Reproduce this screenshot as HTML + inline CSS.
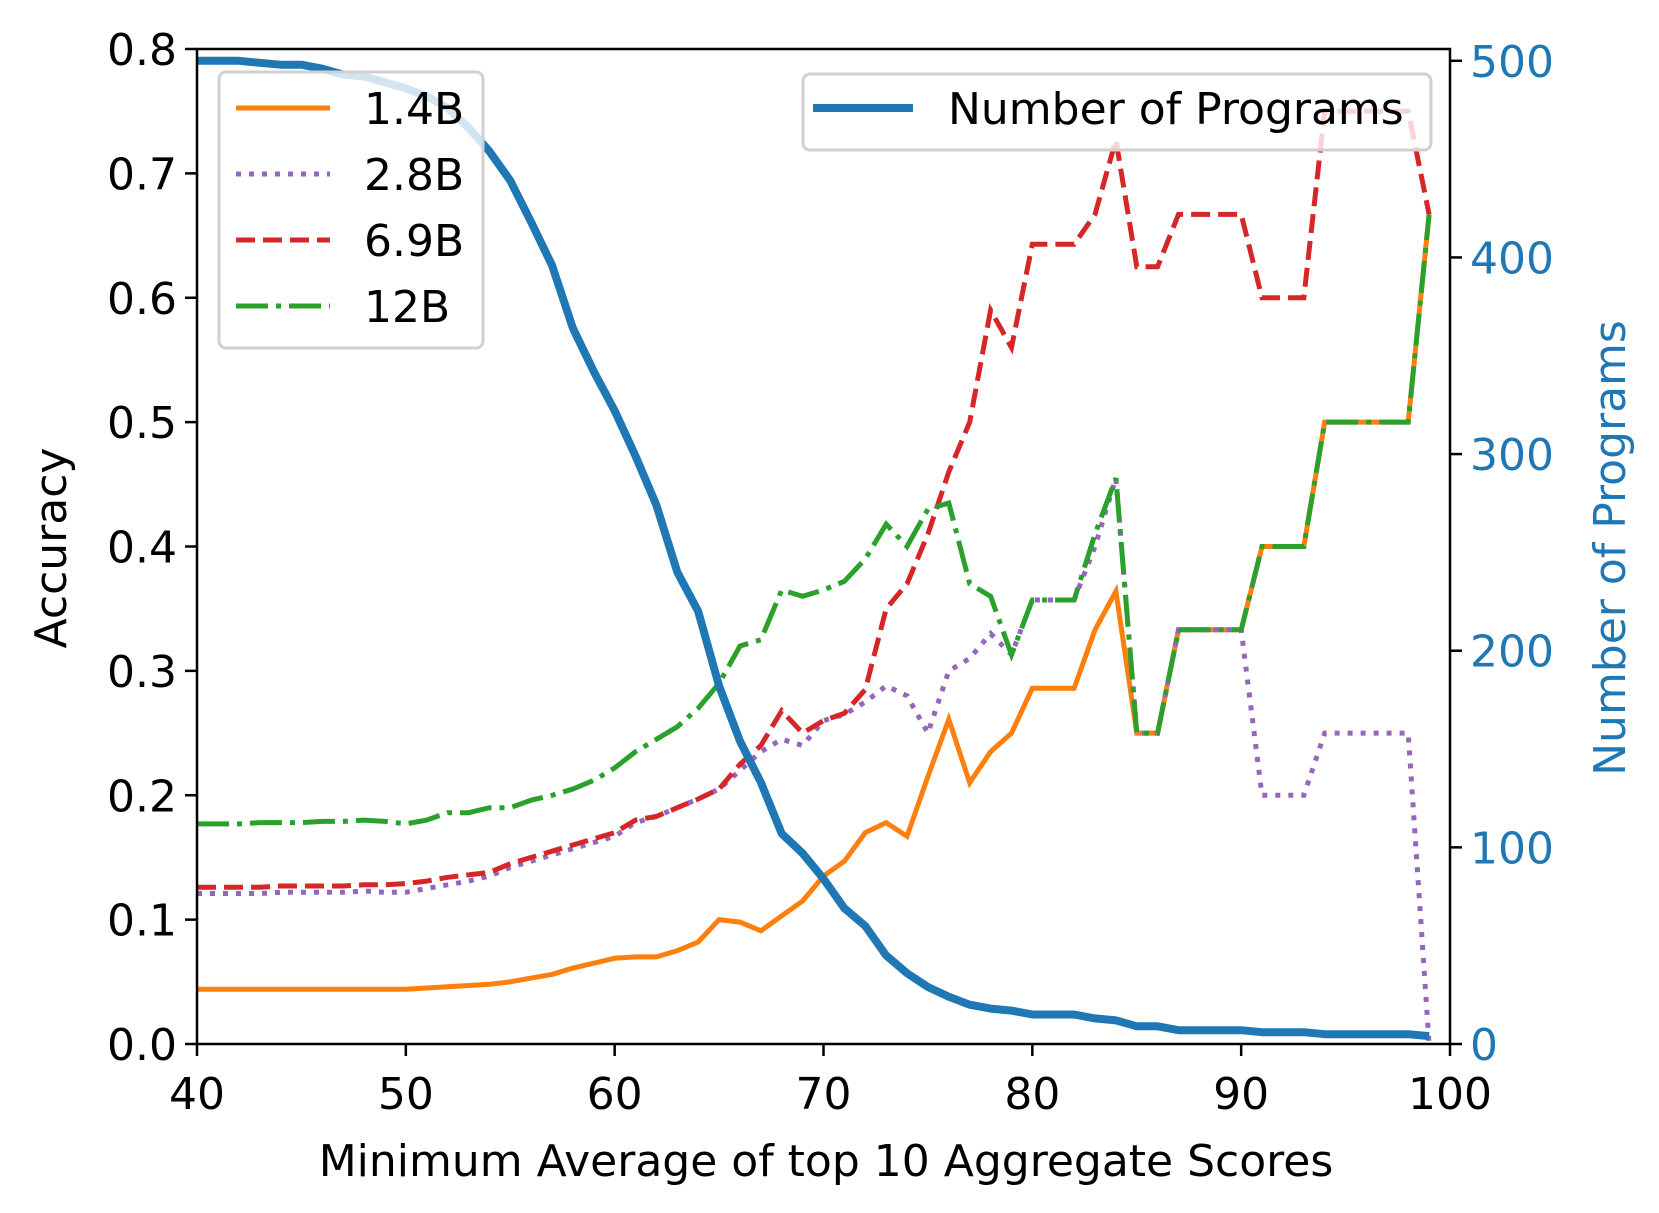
<!DOCTYPE html>
<html><head><meta charset="utf-8"><style>
html,body{margin:0;padding:0;background:#fff;}
svg{display:block;font-family:"DejaVu Sans","Liberation Sans",sans-serif;}
</style></head><body>
<svg id="chart" width="1659" height="1213" viewBox="0 0 1659 1213" xmlns="http://www.w3.org/2000/svg">
<g id="marks"></g>
<g id="axes"></g>
<g id="legends"></g>
</svg>
<script>
const xs = [40,41,42,43,44,45,46,47,48,49,50,51,52,53,54,55,56,57,58,59,60,61,62,63,64,65,66,67,68,69,70,71,72,73,74,75,76,77,78,79,80,81,82,83,84,85,86,87,88,89,90,91,92,93,94,95,96,97,98,99];
const acc14 = [.044,.044,.044,.044,.044,.044,.044,.044,.044,.044,.044,.045,.046,.047,.048,.050,.053,.056,.061,.065,.069,.070,.070,.075,.082,.100,.098,.091,.103,.115,.135,.147,.170,.178,.167,.215,.261,.210,.235,.250,.286,.286,.286,.333,.364,.25,.25,.333,.333,.333,.333,.4,.4,.4,.5,.5,.5,.5,.5,.667];
const acc28 = [.121,.121,.121,.121,.122,.122,.122,.122,.123,.122,.122,.125,.128,.131,.135,.142,.147,.152,.157,.162,.167,.178,.183,.190,.197,.205,.22,.235,.245,.24,.26,.265,.275,.288,.28,.25,.30,.31,.33,.313,.357,.357,.357,.40,.455,.25,.25,.333,.333,.333,.333,.2,.2,.2,.25,.25,.25,.25,.25,0];
const acc69 = [.126,.126,.126,.126,.127,.127,.127,.127,.128,.128,.129,.131,.134,.136,.138,.145,.150,.155,.160,.165,.170,.180,.183,.190,.197,.205,.225,.240,.268,.25,.26,.266,.285,.35,.37,.41,.46,.50,.59,.56,.643,.643,.643,.667,.727,.625,.625,.667,.667,.667,.667,.6,.6,.6,.75,.75,.75,.75,.75,.667];
const acc12 = [.177,.177,.177,.178,.178,.178,.179,.179,.180,.179,.177,.18,.186,.186,.19,.19,.196,.20,.205,.212,.222,.235,.245,.255,.27,.29,.32,.325,.365,.36,.365,.372,.39,.418,.40,.43,.435,.37,.36,.313,.357,.357,.357,.41,.455,.25,.25,.333,.333,.333,.333,.4,.4,.4,.5,.5,.5,.5,.5,.667];
const programs = [500,500,500,499,498,498,496,493,492,489,486,482,476,466,454,439,418,396,364,342,322,299,274,240,220,182,154,133,107,97,84,69,60,45,36,29,24,20,18,17,15,15,15,13,12,9,9,7,7,7,7,6,6,6,5,5,5,5,5,4];
const xTicks = [40,50,60,70,80,90,100];
const yTicks = [0,0.1,0.2,0.3,0.4,0.5,0.6,0.7,0.8];
const y2Ticks = [0,100,200,300,400,500];

const L=197,R=1450,T=49,B=1044;
const X=v=>L+(v-40)/60*(R-L);
const Y=v=>B-v/0.8*(B-T);
const Y2=v=>B-v/506*(B-T);
const NS="http://www.w3.org/2000/svg";
function mk(tag,attrs,parent){const e=document.createElementNS(NS,tag);for(const k in attrs)e.setAttribute(k,attrs[k]);parent.appendChild(e);return e;}
const marks=document.getElementById('marks'),axes=document.getElementById('axes'),leg=document.getElementById('legends');
function pts(arr,f){return arr.map((v,i)=>X(xs[i]).toFixed(1)+','+f(v).toFixed(1)).join(' ');}

let p;
p=mk('polyline',{points:pts(acc14,Y),fill:'none',stroke:'#ff7f0e','stroke-width':5},marks);


p=mk('polyline',{points:pts(acc28,Y),fill:'none',stroke:'#9467bd','stroke-width':5,'stroke-dasharray':'5 8'},marks);


p=mk('polyline',{points:pts(acc69,Y),fill:'none',stroke:'#d62728','stroke-width':5,'stroke-dasharray':'19 8'},marks);


p=mk('polyline',{points:pts(acc12,Y),fill:'none',stroke:'#2ca02c','stroke-width':5,'stroke-dasharray':'32 8 5 8'},marks);


p=mk('polyline',{points:pts(programs,Y2),fill:'none',stroke:'#1f77b4','stroke-width':8,'stroke-linejoin':'round'},marks);



let r=mk('rect',{x:L,y:T,width:R-L,height:B-T,fill:'none',stroke:'#000','stroke-width':2.5},axes);


xTicks.forEach(v=>{
  mk('line',{x1:X(v),x2:X(v),y1:B,y2:B+12,stroke:'#000','stroke-width':2.5},axes);
  const t=mk('text',{x:X(v),y:B+65,'text-anchor':'middle','font-size':44},axes);t.textContent=v;
  
  
});
yTicks.forEach(v=>{
  mk('line',{x1:L-12,x2:L,y1:Y(v),y2:Y(v),stroke:'#000','stroke-width':2.5},axes);
  const t=mk('text',{x:L-20,y:Y(v)+16,'text-anchor':'end','font-size':44},axes);t.textContent=v.toFixed(1);
  
  
});
y2Ticks.forEach(v=>{
  mk('line',{x1:R,x2:R+12,y1:Y2(v),y2:Y2(v),stroke:'#000','stroke-width':2.5},axes);
  const t=mk('text',{x:R+20,y:Y2(v)+16,'font-size':44,fill:'#1f77b4'},axes);t.textContent=v;
  
  
});
</script>
<script>
(function(){
const NS="http://www.w3.org/2000/svg";const svg=document.getElementById('chart');
function tx(x,y,s,attrs,name){const e=document.createElementNS(NS,'text');e.setAttribute('x',x);e.setAttribute('y',y);for(const k in attrs)e.setAttribute(k,attrs[k]);e.textContent=s;


svg.appendChild(e);}
tx(826,1176,'Minimum Average of top 10 Aggregate Scores',{'text-anchor':'middle','font-size':44},'x-axis-title');
tx(0,0,'Accuracy',{'text-anchor':'middle','font-size':44,transform:'translate(66,548) rotate(-90)'},'y-axis-title');
tx(0,0,'Number of Programs',{'text-anchor':'middle','font-size':44,fill:'#1f77b4',transform:'translate(1625,548) rotate(-90)'},'y2-axis-title');
const leg=document.getElementById('legends');
function el(tag,a,name){const e=document.createElementNS(NS,tag);for(const k in a)e.setAttribute(k,a[k]);


leg.appendChild(e);return e;}
el('rect',{x:219,y:72,width:264,height:276,rx:7,fill:'#fff','fill-opacity':0.8,stroke:'#d0d0d0','stroke-width':3},'legend-models');
const items=[['1.4B','#ff7f0e',''],['2.8B','#9467bd','5 8'],['6.9B','#d62728','19 8'],['12B','#2ca02c','32 8 5 8']];
items.forEach((it,i)=>{const y=108+i*66;
 el('line',{x1:236,x2:330,y1:y,y2:y,stroke:it[1],'stroke-width':5,'stroke-dasharray':it[2]},'legend-swatch');
 const t=el('text',{x:364,y:y+16,'font-size':44},'legend-label');t.textContent=it[0];});
el('rect',{x:803,y:74,width:628,height:76,rx:7,fill:'#fff','fill-opacity':0.8,stroke:'#d0d0d0','stroke-width':3},'legend-programs');
el('line',{x1:813,x2:913,y1:108,y2:108,stroke:'#1f77b4','stroke-width':8},'legend-swatch-programs');
const t=el('text',{x:948,y:124,'font-size':44},'legend-label-programs');t.textContent='Number of Programs';
})();
</script>
</body></html>
